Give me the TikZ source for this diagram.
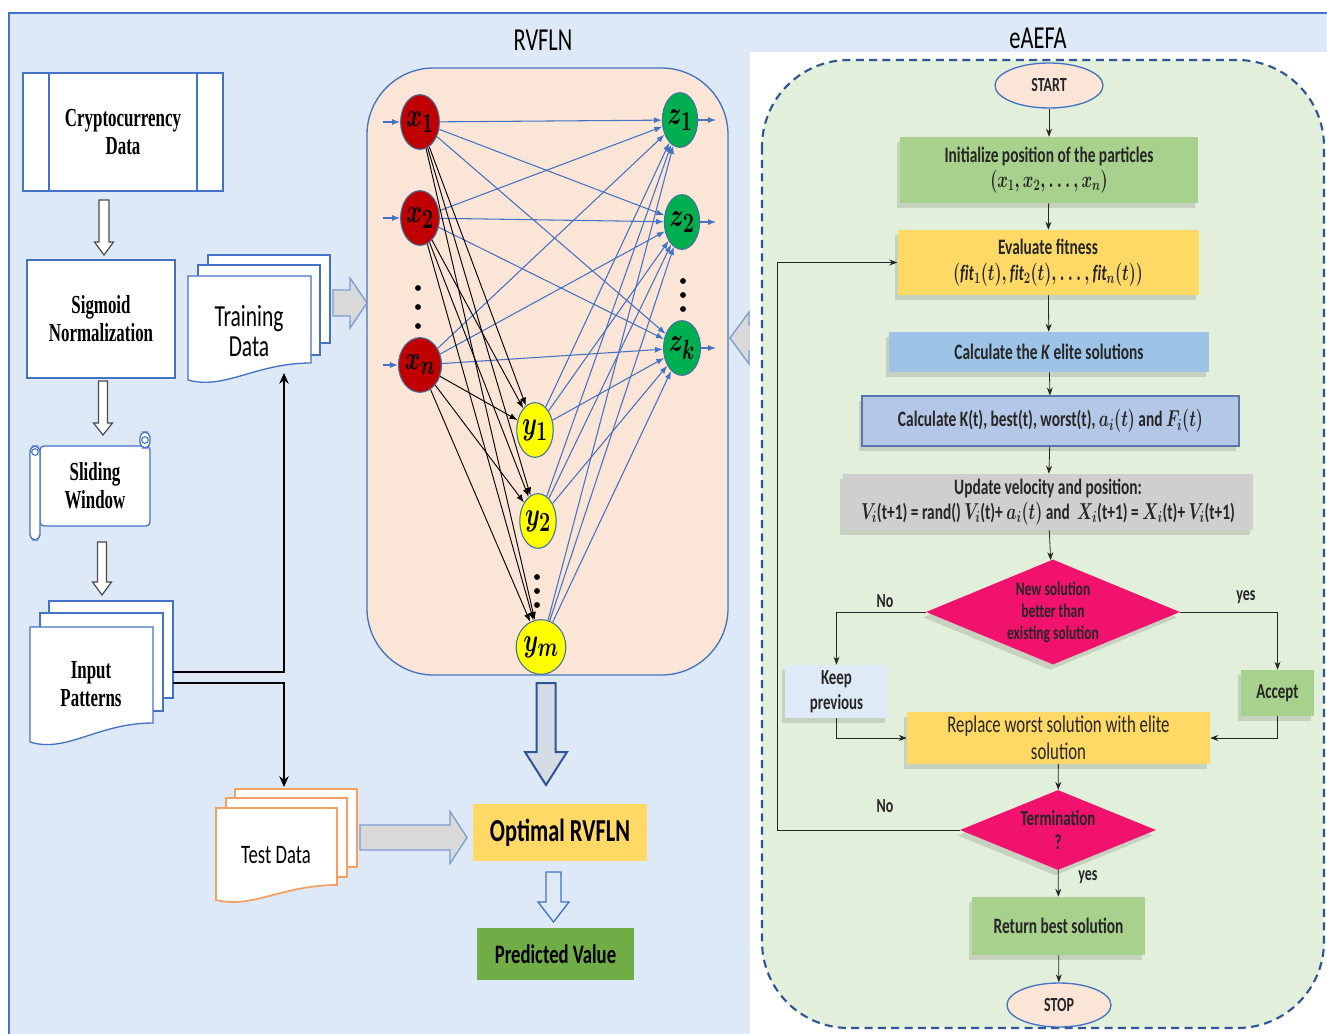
\documentclass[tikz,border=0pt]{standalone}
\usepackage{fontspec}
\usepackage{graphicx}
\setmainfont{Carlito}
\newfontfamily\fcal[FakeStretch=0.7]{Carlito}
\newfontfamily\fser[FakeStretch=0.65]{Liberation Serif}
\usetikzlibrary{shapes.geometric,arrows.meta,shadows}
\definecolor{bgblue}{RGB}{221,233,246}
\definecolor{bblue}{RGB}{68,114,196}
\definecolor{dblue}{RGB}{47,85,151}
\definecolor{peach}{RGB}{251,229,214}
\definecolor{lgreen}{RGB}{226,239,218}
\definecolor{mgreen}{RGB}{169,209,142}
\definecolor{dgreen}{RGB}{112,173,71}
\definecolor{myyellow}{RGB}{255,217,102}
\definecolor{eliteblue}{RGB}{157,195,230}
\definecolor{kblue}{RGB}{180,199,231}
\definecolor{ugray}{RGB}{208,206,206}
\definecolor{keepblue}{RGB}{222,235,247}
\definecolor{magentb}{RGB}{240,18,108}
\definecolor{nred}{RGB}{192,0,0}
\definecolor{ngreen}{RGB}{0,176,80}
\definecolor{nyellow}{RGB}{255,255,0}
\definecolor{nborder}{RGB}{65,113,156}
\definecolor{orangeb}{RGB}{244,160,100}
\definecolor{arrgray}{RGB}{217,217,217}
\definecolor{bigfill}{RGB}{214,220,229}

\newcommand{\sm}[1]{\scalebox{0.7}[1]{\boldmath$#1$}}
\newcommand{\nl}[1]{\scalebox{0.72}[1]{\fontsize{24.88}{26}\selectfont\boldmath$#1$}}
% document page with wavy bottom: style, x1, y1, x2, yleft, yright
\newcommand{\docpage}[6]{%
  \draw[#1] (#2,#3) -- (#4,#3) -- (#4,#6) .. controls ({#4-0.45*(#4-#2)},#6) and ({#2+0.3*(#4-#2)},{#5+0.6*(#5-#6)}) .. (#2,#5) -- cycle;}
% hollow down arrow: style, x, ytop, yhead, ytip, shaft half, head half
\newcommand{\hdown}[7]{%
  \draw[#1] ({#2-#6},#3) -- ({#2+#6},#3) -- ({#2+#6},#4) -- ({#2+#7},#4) -- (#2,#5) -- ({#2-#7},#4) -- ({#2-#6},#4) -- cycle;}
% block right arrow: style, xleft, xhead, xtip, y, shaft half, head half
\newcommand{\hright}[7]{%
  \draw[#1] (#2,{#5-#6}) -- (#3,{#5-#6}) -- (#3,{#5-#7}) -- (#4,#5) -- (#3,{#5+#7}) -- (#3,{#5+#6}) -- (#2,{#5+#6}) -- cycle;}

\begin{document}
\begin{tikzpicture}[x=0.75pt,y=-0.75pt,
  lbl/.style={font=\fser\bfseries\fontsize{19.5}{21}\selectfont, align=center, text=black},
  clbl/.style={font=\fcal\fontsize{23}{23}\selectfont, align=center, text=black},
  title/.style={font=\fcal\fontsize{24}{26}\selectfont, text=black},
  boxline/.style={draw=bblue, line width=1pt, fill=white},
  neu/.style={ellipse, draw=nborder, line width=0.8pt, minimum width=25.5pt, minimum height=41pt, inner sep=0pt},
  netb/.style={draw=bblue, line width=0.8pt, -{Latex[length=6pt,width=4.5pt]}},
  netk/.style={draw=black, line width=0.7pt, -{Latex[length=6pt,width=4.5pt]}},
  fc/.style={rectangle, align=center, inner sep=1pt, text=black!85, font=\fcal\bfseries\fontsize{16.5}{19}\selectfont, drop shadow={shadow xshift=-2pt, shadow yshift=-4pt, opacity=0.18, fill=black!70}},
  fcarr/.style={draw=black!85, line width=0.6pt, -{Stealth[length=6pt,width=4.5pt]}},
  fclab/.style={font=\fcal\bfseries\fontsize{15}{17}\selectfont, text=black!85},
  thickarr/.style={draw=black, line width=2.2pt, -{Stealth[length=8pt,width=7pt]}},
  grayarr/.style={fill=arrgray, draw=bblue!70, line width=1pt},
  bigarr/.style={fill=bigfill, draw=dblue, line width=1.5pt},
  smallarr/.style={fill=keepblue, draw=bblue, line width=1pt},
  hollow/.style={fill=white, draw=black!70, line width=0.9pt}
]
\useasboundingbox (0,0) rectangle (1327,1034);

% background
\fill[bgblue] (9,13) rectangle (1327,1034);
\draw[bblue, line width=1.5pt] (9,1034) -- (9,13) -- (1327,13);

% arrow from eAEFA into RVFLN (partly hidden)
\draw[grayarr] (730,338) -- (749,312) -- (749,325) -- (762,325) -- (762,351) -- (749,351) -- (749,364) -- cycle;

% eAEFA panel
\fill[white] (750,52) rectangle (1327,1034);
\draw[draw=dblue, fill=lgreen, line width=1.6pt, dash pattern=on 6pt off 4pt, rounded corners=65pt] (762,60) rectangle (1324,1028);

% titles
\node[title] (t1) at (543,40) {RVFLN};
\node[title] (t2) at (1038,38) {eAEFA};

% RVFLN panel
\draw[draw=bblue, fill=peach, line width=1pt, rounded corners=50pt] (367,68) rectangle (728,675);

% neurons
\node[neu, fill=nred] (x1) at (420,122) {\nl{x_1}};
\node[neu, fill=nred] (x2) at (420,218) {\nl{x_2}};
\node[neu, fill=nred] (xn) at (420,365) {\nl{x_n}};
\node[neu, fill=ngreen] (z1) at (680,120) {\nl{z_1}};
\node[neu, fill=ngreen] (z2) at (682,222) {\nl{z_2}};
\node[neu, fill=ngreen] (zk) at (682,348) {\nl{z_k}};
\node[neu, fill=nyellow] (y1) at (535,430) {\nl{y_1}};
\node[neu, fill=nyellow] (y2) at (538,521) {\nl{y_2}};
\node[neu, fill=nyellow] (ym) at (541,647) {\nl{y_m}};

\foreach \a in {x1,x2,xn} { \foreach \b in {z1,z2,zk} { \draw[netb] (\a) -- (\b); } }
\foreach \a in {y1,y2,ym} { \foreach \b in {z1,z2,zk} { \draw[netb] (\a) -- (\b); } }
\foreach \a in {x1,x2,xn} { \foreach \b in {y1,y2,ym} { \draw[netk] (\a) -- (\b); } }

\coordinate (i1) at (383,122);
\coordinate (i2) at (383,218);
\coordinate (i3) at (383,365);
\draw[netb] (i1) -- (x1.west);
\draw[netb] (i2) -- (x2.west);
\draw[netb] (i3) -- (xn.west);
\coordinate (o1) at (716,120);
\coordinate (o2) at (716,222);
\coordinate (o3) at (716,348);
\draw[netb] (z1.east) -- (o1);
\draw[netb] (z2.east) -- (o2);
\draw[netb] (zk.east) -- (o3);

\foreach \yy in {288,307,326} \fill (418,\yy) circle[radius=2.2pt];
\foreach \yy in {281,295,309} \fill (683,\yy) circle[radius=2.2pt];
\foreach \yy in {577,591,605} \fill (537,\yy) circle[radius=2.2pt];

% left column
\node[boxline, minimum width=150pt, minimum height=88.5pt, lbl] (crypto) at (123,132) {Cryptocurrency\\Data};
\draw[bblue, line width=1pt] (49,73) -- (49,191) (197,73) -- (197,191);

\hdown{hollow}{104}{200}{242}{255}{5}{9.5}

\node[boxline, minimum width=111pt, minimum height=88.5pt, lbl] (sig) at (101,319) {Sigmoid\\Normalization};

\hdown{hollow}{103}{381}{423}{435}{4.5}{9.5}

% sliding window scroll
\draw[boxline, rounded corners=3pt] (40,446) rectangle (150,526);
\draw[boxline, rounded corners=4pt] (140,432) rectangle (150,448);
\draw[bblue, line width=0.8pt] (145,440) circle[radius=2.5pt];
\draw[boxline, rounded corners=4pt] (30,446) rectangle (40,540);
\draw[bblue, line width=0.8pt] (35,452) circle[radius=2.5pt];
\node[lbl] (slide) at (95,486) {Sliding\\Window};

\hdown{hollow}{102}{542}{582}{595}{4.5}{9.5}

% input patterns
\draw[boxline] (49,601) rectangle (173,698);
\draw[boxline] (40,613) rectangle (163,711);
\docpage{boxline}{30}{627}{153}{742}{723}
\node[lbl] (inp) at (91,684) {Input\\Patterns};

% training data
\draw[boxline] (208,255) rectangle (330,343);
\draw[boxline] (198,265) rectangle (320,355);
\docpage{boxline}{188}{276}{311}{380}{363}
\node[clbl] (train) at (249,331) {Training\\Data};

\hright{grayarr}{333}{350}{367}{303}{13}{25}

% connectors from input patterns
\coordinate (ipA) at (173,672);
\coordinate (ipB) at (173,683);
\coordinate (trB) at (284,373);
\coordinate (teT) at (284,787);
\draw[thickarr] (ipA) -| (trB);
\draw[thickarr] (ipB) -| (teT);

% test data
\draw[boxline, draw=orangeb, line width=1.3pt] (235,789) rectangle (357,867);
\draw[boxline, draw=orangeb, line width=1.3pt] (226,798) rectangle (347,877);
\docpage{boxline, draw=orangeb, line width=1.3pt}{216}{808}{337}{900}{885}
\node[clbl, font=\fcal\fontsize{20}{22}\selectfont] (test) at (276,855) {Test Data};

\hright{grayarr}{360}{450}{467}{837.5}{12.5}{26}

% big arrow from RVFLN down
\hdown{bigarr}{546}{683}{752}{785}{9.5}{21}

\node[fill=myyellow, minimum width=130.5pt, minimum height=42.75pt, inner sep=0pt, font=\fcal\bfseries\fontsize{24}{26}\selectfont, text=black] (opt) at (560,832.5) {Optimal RVFLN};

\hdown{smallarr}{553.5}{872}{902}{922}{7.5}{15.5}

\node[fill=dgreen, minimum width=117.75pt, minimum height=39pt, inner sep=0pt, font=\fcal\bfseries\fontsize{20}{22}\selectfont, text=black] (pred) at (555.5,954) {Predicted Value};

% flowchart
\node[ellipse, draw=bblue, line width=1pt, fill=peach, minimum width=81pt, minimum height=33.75pt, inner sep=0pt, font=\fcal\bfseries\fontsize{15}{17}\selectfont, text=black!85] (start) at (1049,85.5) {START};
\node[fc, fill=mgreen, minimum width=223.5pt, minimum height=49.5pt] (init) at (1049,170) {Initialize position of the particles\\ \sm{(x_1, x_2, \dots, x_n)}};
\node[fc, fill=myyellow, minimum width=225.75pt, minimum height=48.75pt] (eval) at (1048,262.5) {Evaluate fitness\\ \sm{\bigl(\mathit{fit}_1(t), \mathit{fit}_2(t), \dots, \mathit{fit}_n(t)\bigr)}};
\node[fc, fill=eliteblue, minimum width=240pt, minimum height=30pt] (elite) at (1049,352) {Calculate the \textit{K} elite solutions};
\node[fc, fill=kblue, draw=dblue!80, line width=0.8pt, minimum width=282.75pt, minimum height=37.5pt] (calck) at (1050.5,421) {Calculate K(t), best(t), worst(t), \sm{a_i(t)} and \sm{F_i(t)}};
\node[fc, fill=ugray, minimum width=307.5pt, minimum height=42pt] (upd) at (1048,502) {Update velocity and position:\\ \sm{V_i}(t+1) = rand() \sm{V_i}(t)+ \sm{a_i(t)} and\ \ \sm{X_i}(t+1) = \sm{X_i}(t)+ \sm{V_i}(t+1)};
\node[fc, diamond, aspect=2.4, fill=magentb, minimum width=190.5pt, minimum height=78.75pt, inner sep=0pt, font=\fcal\bfseries\fontsize{14.5}{16.5}\selectfont] (d1) at (1053,612) {New solution\\better than\\existing solution};
\node[fc, fill=keepblue, minimum width=77.25pt, minimum height=39.75pt, font=\fcal\bfseries\fontsize{16}{18.5}\selectfont] (keep) at (836.5,691.5) {Keep\\previous};
\node[fc, fill=mgreen, minimum width=54.75pt, minimum height=34.5pt, font=\fcal\bfseries\fontsize{16}{18.5}\selectfont] (acc) at (1277.5,693) {Accept};
\node[fc, fill=myyellow, minimum width=227.25pt, minimum height=39pt, font=\fcal\fontsize{18}{20}\selectfont] (rep) at (1058.5,738) {Replace worst solution with elite\\solution};
\node[fc, diamond, aspect=2.45, fill=magentb, minimum width=147pt, minimum height=60pt, inner sep=0pt, font=\fcal\bfseries\fontsize{16}{18}\selectfont] (d2) at (1058,830) {Termination\\?};
\node[fc, fill=mgreen, minimum width=129.75pt, minimum height=43.5pt] (ret) at (1058.5,926) {Return best solution};
\node[ellipse, draw=bblue, line width=1pt, fill=peach, minimum width=78pt, minimum height=33pt, inner sep=0pt, font=\fcal\bfseries\fontsize{15}{17}\selectfont, text=black!85] (stop) at (1059,1005) {STOP};

\node[fclab] (no1) at (885,601) {No};
\node[fclab] (yes1) at (1246,597) {yes};
\node[fclab] (no2) at (885,806) {No};
\node[fclab] (yes2) at (1088,877) {yes};

\draw[fcarr] (start) -- (init);
\draw[fcarr] (init) -- (eval);
\draw[fcarr] (eval) -- (elite);
\draw[fcarr] (elite) -- (calck);
\draw[fcarr] (calck) -- (upd);
\draw[fcarr] (upd) -- (d1);
\draw[fcarr] (d1.west) -| (keep.north);
\draw[fcarr] (d1.east) -| (acc.north);
\draw[fcarr] (keep.south) |- (rep.west);
\draw[fcarr] (acc.south) |- (rep.east);
\draw[fcarr] (rep) -- (d2);
\coordinate (loopc) at (777,830);
\draw[fcarr] (d2.west) -- (loopc) |- (eval.west);
\draw[fcarr] (d2) -- (ret);
\draw[fcarr] (ret) -- (stop);
\end{tikzpicture}
\end{document}
